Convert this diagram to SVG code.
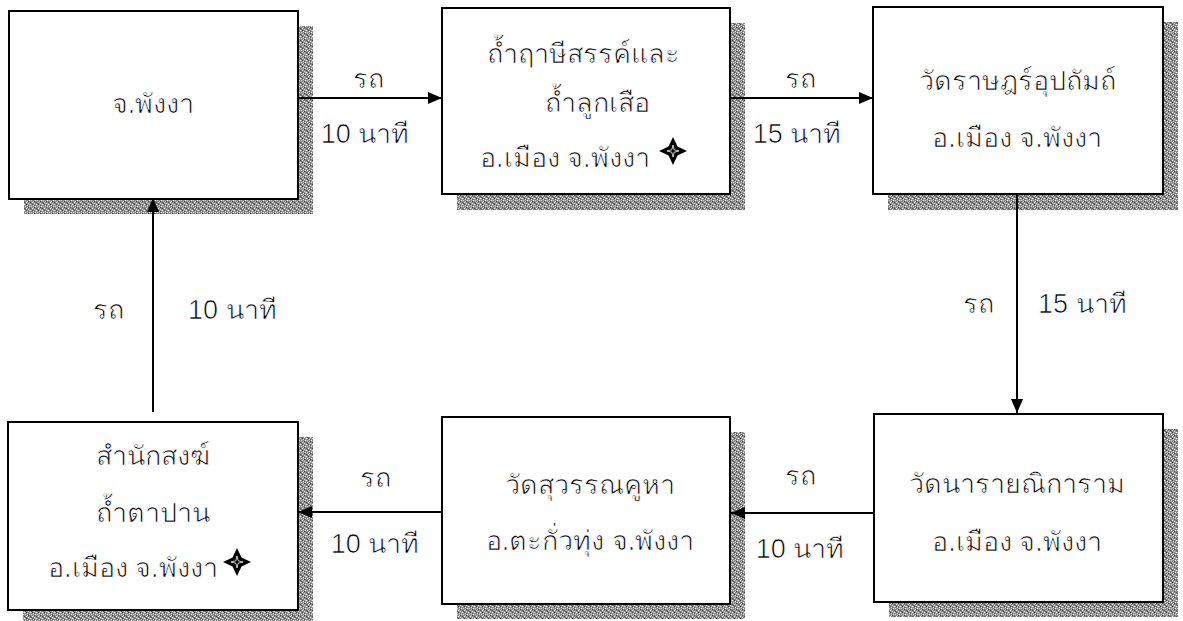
<svg xmlns="http://www.w3.org/2000/svg" width="1183" height="621" viewBox="0 0 1183 621">
<defs>
<style>
.box{fill:#ffffff;stroke:#000000;stroke-width:2}
.shadow{fill:url(#dither)}
.t{font-family:"Liberation Sans","Noto Sans",sans-serif;font-size:27px;fill:#000000;stroke:#ffffff;stroke-width:0.7px;text-anchor:middle}
.ts{font-family:"Liberation Sans","Noto Sans",sans-serif;font-size:27px;fill:#000000;stroke:#ffffff;stroke-width:0.7px;text-anchor:start}
.c{fill:none;stroke:#000000;stroke-width:2}
</style>
<pattern id="dither" width="6" height="6" patternUnits="userSpaceOnUse">
<rect width="6" height="6" fill="#8a8a8a"/>
<rect x="0" y="0" width="1" height="1" fill="#ffffff"/>
<rect x="3" y="1" width="1" height="1" fill="#f0f0f0"/>
<rect x="1" y="2" width="1" height="1" fill="#d8d8d8"/>
<rect x="5" y="2" width="1" height="1" fill="#ffffff"/>
<rect x="2" y="4" width="1" height="1" fill="#ffffff"/>
<rect x="4" y="5" width="1" height="1" fill="#e0e0e0"/>
<rect x="2" y="0" width="1" height="1" fill="#3a3a3a"/>
<rect x="4" y="3" width="1" height="1" fill="#404040"/>
<rect x="0" y="4" width="1" height="1" fill="#505050"/>
<rect x="5" y="0" width="1" height="1" fill="#b0b0b0"/>
<rect x="1" y="5" width="1" height="1" fill="#5a5a5a"/>
<rect x="3" y="3" width="1" height="1" fill="#c8c8c8"/>
<rect x="4" y="1" width="1" height="1" fill="#606060"/>
<rect x="1" y="0" width="1" height="1" fill="#a8a8a8"/>
</pattern>
<marker id="arrow" markerWidth="14" markerHeight="12" refX="14" refY="6" orient="auto" markerUnits="userSpaceOnUse">
<path d="M0,0 L14,6 L0,12 Z" fill="#000000"/>
</marker>
<g id="star">
<path d="M0,-14 L4.5,-4.5 L14,0 L4.5,4.5 L0,14 L-4.5,4.5 L-14,0 L-4.5,-4.5 Z" fill="#000000"/>
<path d="M0,-6 L1.2,-1.2 L6,0 L1.2,1.2 L0,6 L-1.2,1.2 L-6,0 L-1.2,-1.2 Z" fill="none" stroke="#ffffff" stroke-width="0.8"/>
</g>
</defs>
<rect width="1183" height="621" fill="#ffffff"/>

<g id="node-phangnga">
<rect class="shadow" x="24" y="26" width="289" height="188"/>
<rect class="box" x="9" y="11" width="289" height="188"/>
<text class="t" x="153" y="113">จ.พังงา</text>
</g>

<g id="node-tham-ruesi">
<rect class="shadow" x="457" y="23" width="288" height="187"/>
<rect class="box" x="442" y="8" width="288" height="186"/>
<text class="t" x="583" y="63">ถ้ำฤาษีสรรค์และ</text>
<text class="t" x="597" y="112">ถ้ำลูกเสือ</text>
<text class="ts" x="480" y="167">อ.เมือง จ.พังงา</text>
<use href="#star" x="673" y="151"/>
</g>

<g id="node-wat-rat">
<rect class="shadow" x="888" y="22" width="290" height="188"/>
<rect class="box" x="873" y="7" width="290" height="187"/>
<text class="t" x="1017" y="90">วัดราษฎร์อุปถัมถ์</text>
<text class="t" x="1017" y="147">อ.เมือง จ.พังงา</text>
</g>

<g id="node-wat-narai">
<rect class="shadow" x="889" y="429" width="289" height="188"/>
<rect class="box" x="874" y="414" width="289" height="188"/>
<text class="t" x="1017" y="493">วัดนารายณิการาม</text>
<text class="t" x="1017" y="551">อ.เมือง จ.พังงา</text>
</g>

<g id="node-wat-suwan">
<rect class="shadow" x="457" y="432" width="288" height="187"/>
<rect class="box" x="442" y="417" width="288" height="187"/>
<text class="t" x="590" y="494">วัดสุวรรณคูหา</text>
<text class="t" x="590" y="550">อ.ตะกั่วทุ่ง จ.พังงา</text>
</g>

<g id="node-samnak">
<rect class="shadow" x="23" y="437" width="290" height="188"/>
<rect class="box" x="8" y="422" width="290" height="188"/>
<text class="t" x="153" y="465">สำนักสงฆ์</text>
<text class="t" x="153" y="522">ถ้ำตาปาน</text>
<text class="ts" x="48" y="577">อ.เมือง จ.พังงา</text>
<use href="#star" x="237" y="562"/>
</g>

<g id="connectors">
<line class="c" x1="298" y1="98" x2="442" y2="98" marker-end="url(#arrow)"/>
<line class="c" x1="730" y1="98" x2="873" y2="98" marker-end="url(#arrow)"/>
<line class="c" x1="1017" y1="194" x2="1017" y2="413" marker-end="url(#arrow)"/>
<line class="c" x1="874" y1="513" x2="731" y2="513" marker-end="url(#arrow)"/>
<line class="c" x1="442" y1="512" x2="298" y2="512" marker-end="url(#arrow)"/>
<line class="c" x1="153" y1="412" x2="153" y2="198" marker-end="url(#arrow)"/>
<text class="t" x="368" y="88">รถ</text>
<text class="t" x="365" y="143">10 นาที</text>
<text class="t" x="800" y="88">รถ</text>
<text class="t" x="797" y="143">15 นาที</text>
<text class="t" x="978" y="313">รถ</text>
<text class="ts" x="1038" y="313">15 นาที</text>
<text class="t" x="800" y="485">รถ</text>
<text class="t" x="800" y="558">10 นาที</text>
<text class="t" x="375" y="487">รถ</text>
<text class="t" x="375" y="553">10 นาที</text>
<text class="t" x="108" y="319">รถ</text>
<text class="ts" x="188" y="319">10 นาที</text>
</g>
</svg>
